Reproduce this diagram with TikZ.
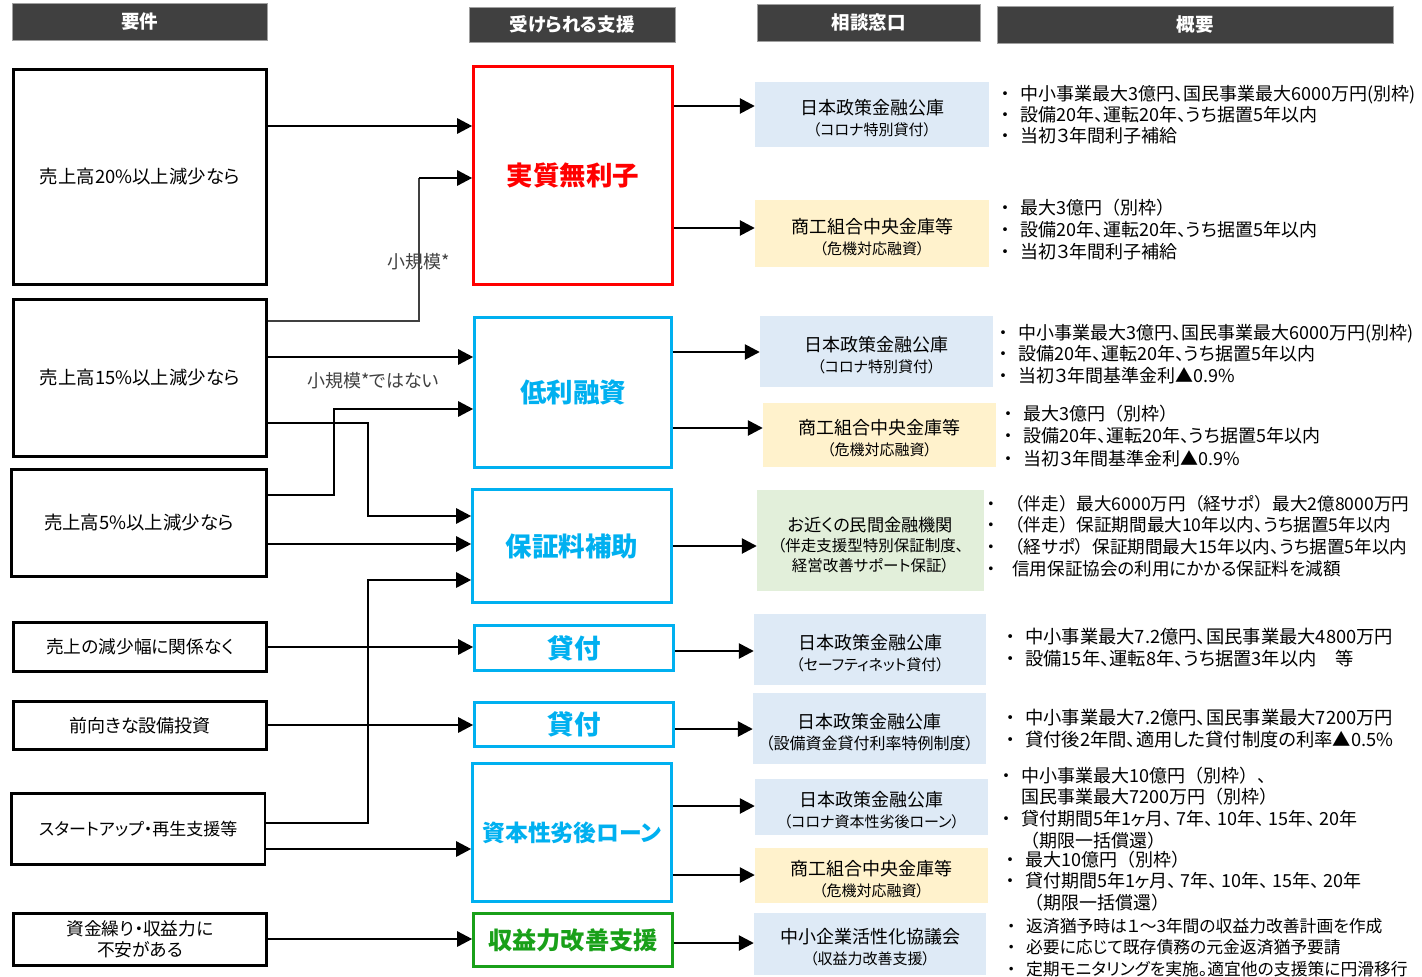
\documentclass[tikz,border=0pt]{standalone}
\usepackage{fontspec}
\setmainfont{Noto Sans CJK JP}[RawFeature=+palt]
\newfontfamily\fw{Noto Sans CJK JP}
\usetikzlibrary{arrows.meta}
\definecolor{hdr}{HTML}{404040}
\definecolor{hdrline}{HTML}{A0A0A0}
\definecolor{cyanb}{HTML}{00B0F0}
\definecolor{greenb}{RGB}{25,160,25}
\definecolor{redb}{HTML}{FF0000}
\definecolor{fblue}{HTML}{DEEAF6}
\definecolor{fyellow}{HTML}{FFF2CC}
\definecolor{fgreen}{HTML}{E2EFDA}
\definecolor{lbl}{HTML}{404040}
\tikzset{
  hdrbox/.style={fill=hdr, draw=hdrline, line width=1pt, text=white, font=\fontsize{18.5}{20}\selectfont\bfseries, inner sep=0},
  reqbox/.style={draw=black, line width=2.6pt, align=center, inner sep=0, font=\fontsize{17.7}{22}\selectfont},
  supbox/.style={draw=#1, line width=2.6pt, text=#1, inner sep=0, font=\fontsize{26.5}{28}\selectfont\bfseries},
  winbox/.style={fill=#1, inner sep=0, align=center, font=\fontsize{18}{21}\selectfont},
  arr/.style={line width=2.6pt, -{Triangle[length=15pt,width=15pt]}},
  thinln/.style={line width=1.4pt, draw=lbl},
  desc/.style={anchor=base west, inner sep=0},
  lbltext/.style={text=lbl, font=\fontsize{18}{20}\selectfont, inner sep=1pt}
}
\newcommand{\wt}[3][15]{\rule{0pt}{22pt}#2\\{\fontsize{#1}{21}\selectfont #3}}
\newcommand{\bl}{\makebox[16pt]{・}\hspace{7pt}}
\newcommand{\nb}{\hspace{23pt}}
\newcommand{\lp}{{\fw （}}
\newcommand{\rp}{{\fw ）}}
\newcommand{\cm}{、\hspace{4pt}}
\begin{document}
\begin{tikzpicture}[x=1pt,y=-1pt]
\useasboundingbox[fill=white] (0,0) rectangle (1422,977);

% headers
\node[hdrbox, minimum width=255, minimum height=37] (h1) at (139.5,21.5) {要件};
\node[hdrbox, minimum width=206, minimum height=35] (h2) at (572,24.5) {受けられる支援};
\node[hdrbox, minimum width=223, minimum height=37] (h3) at (868.5,22.5) {相談窓口};
\node[hdrbox, minimum width=396, minimum height=37] (h4) at (1195,24.5) {概要};

% requirement boxes
\node[reqbox, minimum width=253, minimum height=215, font=\fontsize{18.4}{22}\selectfont] (L1) at (140,177) {売上高20\%以上減少なら};
\node[reqbox, minimum width=253, minimum height=157, font=\fontsize{18.4}{22}\selectfont] (L2) at (140,378) {売上高15\%以上減少なら};
\node[reqbox, minimum width=255, minimum height=107, font=\fontsize{18.4}{22}\selectfont] (L3) at (139,523) {売上高5\%以上減少なら};
\node[reqbox, minimum width=253, minimum height=49] (L4) at (140,647) {売上の減少幅に関係なく};
\node[reqbox, minimum width=253, minimum height=48, font=\fontsize{18}{22}\selectfont] (L5) at (140,725.5) {前向きな設備投資};
\node[reqbox, minimum width=253.5, minimum height=71, font=\fontsize{17}{22}\selectfont] (L6) at (138.25,829) {スタートアップ・再生支援等};
\node[reqbox, minimum width=253, minimum height=52, font=\fontsize{17.7}{21}\selectfont] (L7) at (140,939.5) {資金繰り・収益力に\\不安がある};

% support boxes
\node[supbox=redb, minimum width=199, minimum height=218] (M1) at (573,175.5) {実質無利子};
\node[supbox=cyanb, minimum width=197, minimum height=150] (M2) at (573,392.5) {低利融資};
\node[supbox=cyanb, minimum width=199, minimum height=113] (M3) at (572,546) {保証料補助};
\node[supbox=cyanb, minimum width=199, minimum height=45] (M4) at (574,648) {貸付};
\node[supbox=cyanb, minimum width=199, minimum height=44] (M5) at (574,724.5) {貸付};
\node[supbox=cyanb, minimum width=199, minimum height=138, font=\fontsize{22.8}{26}\selectfont\bfseries] (M6) at (572,832.5) {資本性劣後ローン};
\node[supbox=greenb, minimum width=199, minimum height=53, font=\fontsize{24.2}{26}\selectfont\bfseries] (M7) at (573,940) {収益力改善支援};

% consultation windows
\node[winbox=fblue, minimum width=234, minimum height=65] (R1) at (872,114.5) {\wt{日本政策金融公庫}{（コロナ特別貸付）}};
\node[winbox=fyellow, minimum width=234, minimum height=67] (R2) at (872,233.5) {\wt{商工組合中央金庫等}{（危機対応融資）}};
\node[winbox=fblue, minimum width=233, minimum height=71] (R3) at (876.5,351.5) {\wt{日本政策金融公庫}{（コロナ特別貸付）}};
\node[winbox=fyellow, minimum width=233, minimum height=64] (R4) at (879.5,435) {\wt{商工組合中央金庫等}{（危機対応融資）}};
\node[winbox=fgreen, minimum width=227, minimum height=101, font=\fontsize{15.5}{20}\selectfont] (R5) at (870.5,540.5) {\rule{0pt}{24pt}{\fontsize{17.2}{20}\selectfont お近くの民間金融機関}\\（伴走支援型特別保証制度、\\経営改善サポート保証）};
\node[winbox=fblue, minimum width=232, minimum height=71] (R6) at (870,649.5) {\wt{日本政策金融公庫}{（セーフティネット貸付）}};
\node[winbox=fblue, minimum width=233, minimum height=71] (R7) at (869.5,728.5) {\wt[16]{日本政策金融公庫}{（設備資金貸付利率特例制度）}};
\node[winbox=fblue, minimum width=233, minimum height=56] (R8) at (871.5,807) {\wt{日本政策金融公庫}{（コロナ資本性劣後ローン）}};
\node[winbox=fyellow, minimum width=233, minimum height=55] (R9) at (871.5,875.5) {\wt{商工組合中央金庫等}{（危機対応融資）}};
\node[winbox=fblue, minimum width=232, minimum height=62] (R10) at (870,944) {\wt{中小企業活性化協議会}{（収益力改善支援）}};

% left -> middle connectors
\draw[arr] (L1.east |- 0,126) -- (M1.west |- 0,126);
\coordinate (kb) at (419,178);
\draw[thinln] (L2.east |- 0,321) -| (kb);
\draw[arr] (kb) -- (M1.west |- kb);
\node[lbltext] (lb1) at (419,262) {小規模*};
\draw[arr] (L2.east |- 0,357) -- (M2.west |- 0,357);
\node[lbltext] (lb2) at (373,381) {小規模*ではない};
\draw[arr] (L2.east |- 0,423) -| (368,470) |- (M3.west |- 0,516);
\draw[arr] (L3.east |- 0,495) -| (334,450) |- (M2.west |- 0,409);
\draw[arr] (L3.east |- 0,544) -- (M3.west |- 0,544);
\draw[arr] (L6.east |- 0,823) -| (368,700) |- (M3.west |- 0,580);
\draw[arr] (L4.east |- 0,647) -- (M4.west |- 0,647);
\draw[arr] (L5.east |- 0,725) -- (M5.west |- 0,725);
\draw[arr] (L6.east |- 0,849) -- (M6.west |- 0,849);
\draw[arr] (L7.east |- 0,939) -- (M7.west |- 0,939);

% middle -> right connectors
\draw[arr] (M1.east |- 0,106) -- (R1.west |- 0,106);
\draw[arr] (M1.east |- 0,228) -- (R2.west |- 0,228);
\draw[arr] (M2.east |- 0,352) -- (R3.west |- 0,352);
\draw[arr] (M2.east |- 0,428) -- (R4.west |- 0,428);
\draw[arr] (M3.east |- 0,546) -- (R5.west |- 0,546);
\draw[arr] (M4.east |- 0,651) -- (R6.west |- 0,651);
\draw[arr] (M5.east |- 0,729) -- (R7.west |- 0,729);
\draw[arr] (M6.east |- 0,806) -- (R8.west |- 0,806);
\draw[arr] (M6.east |- 0,875) -- (R9.west |- 0,875);
\draw[arr] (M7.east |- 0,943) -- (R10.west |- 0,943);

% descriptions
\node[desc, font=\fontsize{18}{21}\selectfont] (D1) at (997,100) {\begin{tabular}[t]{@{}l@{}}
\bl 中小事業最大3億円、国民事業最大6000万円(別枠)\\
\bl 設備20年、運転20年、うち据置5年以内\\
\bl 当初３年間利子補給\end{tabular}};
\node[desc, font=\fontsize{18}{22}\selectfont] (D2) at (997,214) {\begin{tabular}[t]{@{}l@{}}
\bl 最大3億円\lp 別枠\rp\\
\bl 設備20年、運転20年、うち据置5年以内\\
\bl 当初３年間利子補給\end{tabular}};
\node[desc, font=\fontsize{18}{21.5}\selectfont] (D3) at (995,339) {\begin{tabular}[t]{@{}l@{}}
\bl 中小事業最大3億円、国民事業最大6000万円(別枠)\\
\bl 設備20年、運転20年、うち据置5年以内\\
\bl 当初３年間基準金利▲0.9\%\end{tabular}};
\node[desc, font=\fontsize{18}{22.5}\selectfont] (D4) at (1000,420) {\begin{tabular}[t]{@{}l@{}}
\bl 最大3億円\lp 別枠\rp\\
\bl 設備20年、運転20年、うち据置5年以内\\
\bl 当初３年間基準金利▲0.9\%\end{tabular}};
\node[desc, font=\fontsize{17.6}{21.7}\selectfont] (D5) at (983,510) {\begin{tabular}[t]{@{}l@{}}
\bl \lp 伴走\rp 最大6000万円\lp 経サポ\rp 最大2億8000万円\\
\bl \lp 伴走\rp 保証期間最大10年以内、うち据置5年以内\\
\bl \lp 経サポ\rp 保証期間最大15年以内、うち据置5年以内\\
\bl \hspace{6pt}信用保証協会の利用にかかる保証料を減額\end{tabular}};
\node[desc, font=\fontsize{18.3}{22}\selectfont] (D6) at (1002,643) {\begin{tabular}[t]{@{}l@{}}
\bl 中小事業最大7.2億円、国民事業最大4800万円\\
\bl 設備15年、運転8年、うち据置3年以内　等\end{tabular}};
\node[desc, font=\fontsize{18.3}{22}\selectfont] (D7) at (1002,724) {\begin{tabular}[t]{@{}l@{}}
\bl 中小事業最大7.2億円、国民事業最大7200万円\\
\bl 貸付後2年間、適用した貸付制度の利率▲0.5\%\end{tabular}};
\node[desc, font=\fontsize{18}{21.6}\selectfont] (D8) at (998,782) {\begin{tabular}[t]{@{}l@{}}
\bl 中小事業最大10億円\lp 別枠\rp{\fw 、}\\
\nb 国民事業最大7200万円\lp 別枠\rp\\
\bl 貸付期間5年1ヶ月\cm 7年\cm 10年\cm 15年\cm 20年\\
\nb \lp 期限一括償還\rp\end{tabular}};
\node[desc, font=\fontsize{18}{21.5}\selectfont] (D9) at (1002,866) {\begin{tabular}[t]{@{}l@{}}
\bl 最大10億円\lp 別枠\rp\\
\bl 貸付期間5年1ヶ月\cm 7年\cm 10年\cm 15年\cm 20年\\
\nb \lp 期限一括償還\rp\end{tabular}};
\node[desc, font=\fontsize{16.8}{21.5}\selectfont] (D10) at (1003,932) {\begin{tabular}[t]{@{}l@{}}
\bl 返済猶予時は１～3年間の収益力改善計画を作成\\
\bl 必要に応じて既存債務の元金返済猶予要請\\
\bl 定期モニタリングを実施。適宜他の支援策に円滑移行\end{tabular}};
\end{tikzpicture}
\end{document}
